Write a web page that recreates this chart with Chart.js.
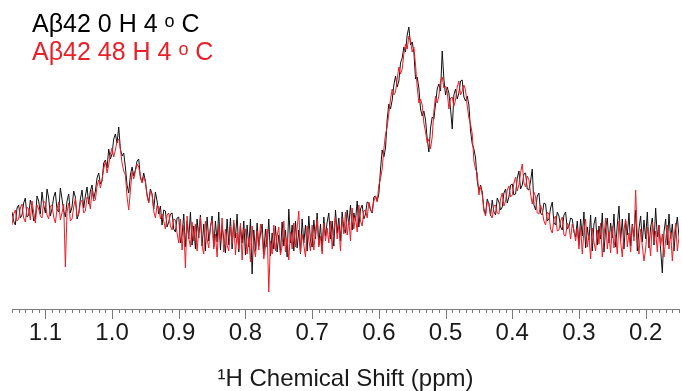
<!DOCTYPE html>
<html>
<head>
<meta charset="utf-8">
<script src="https://cdn.jsdelivr.net/npm/chart.js@4/dist/chart.umd.min.js"></script>
<style>
html,body{margin:0;padding:0;background:#fff;}
canvas{display:block;}
</style>
</head>
<body>
<canvas id="c" width="682" height="391"></canvas>
<script>
// chemical shift sampling: first and last point of the spectrum (ppm), evenly spaced
const ppmFirst = 1.15;
const ppmLast = 0.15;

// Aβ42 0 H 4 °C (intensity, a.u.)
const spec0h = [
97,88,84,101,104,91,94,106,111,92,
94,109,102,88,90,113,108,95,117,104,
96,120,111,93,100,112,117,99,97,121,
110,98,92,108,115,96,102,118,112,90,
95,110,119,101,113,122,105,118,124,110,
118,131,136,125,128,146,149,141,160,150,
155,170,175,166,182,160,153,156,142,124,
116,134,142,133,139,148,150,131,127,136,
128,114,107,120,115,100,117,108,95,103,
84,99,98,82,87,95,96,80,77,91,
92,66,74,95,62,88,70,97,64,83,
60,90,71,94,63,85,58,92,68,81,
93,62,88,67,97,59,84,70,56,90,
64,91,60,86,71,95,57,83,66,88,
54,84,62,90,35,79,58,86,63,75,
85,55,80,62,90,53,76,60,83,57,
74,56,87,63,79,52,100,66,84,58,
88,61,79,55,90,66,84,58,93,68,
62,89,70,96,64,85,58,92,73,87,
96,70,88,63,99,76,91,68,97,80,
76,99,84,104,79,96,88,108,82,100,
104,90,95,107,106,99,96,112,113,108,
115,140,159,152,161,190,205,200,209,224,
233,222,228,246,251,262,257,274,282,264,
267,257,230,232,221,200,193,198,189,170,
157,181,192,190,205,220,225,218,258,230,
214,222,216,200,180,214,220,210,216,228,
229,212,208,213,204,178,165,160,151,128,
118,124,117,100,95,110,105,93,109,97,
94,111,107,99,102,116,120,106,112,124,
125,114,115,131,138,120,124,135,136,120,
119,128,140,104,99,113,116,96,94,106,
105,88,90,101,107,86,84,97,93,82,
79,94,97,80,83,91,90,77,72,88,
64,90,73,97,61,82,69,94,58,85,
92,64,83,70,96,57,80,91,66,86,
71,95,62,84,103,68,90,60,88,74,
96,63,85,72,99,58,80,93,67,89,
70,97,61,82,91,64,101,72,84,59,
36,77,90,64,95,70,85,58,80,92,
72];

// Aβ42 48 H 4 °C (intensity, a.u.)
const spec48h = [
84,95,99,88,90,101,105,91,87,102,
100,89,108,97,86,104,100,93,91,108,
106,94,90,103,104,92,86,100,107,89,
96,105,42,97,106,88,90,102,111,93,
95,106,109,96,98,112,109,100,119,108,
109,123,129,121,129,140,148,136,144,155,
161,152,159,168,170,160,146,138,134,112,
99,118,137,130,138,145,142,133,126,132,
127,113,106,118,115,98,91,104,102,90,
95,88,80,94,96,83,79,90,89,76,
66,90,59,84,41,93,71,62,87,68,
85,58,79,92,63,55,88,70,61,83,
89,60,75,52,84,68,91,57,80,64,
58,83,65,89,54,76,60,86,49,79,
80,55,72,47,83,63,52,78,59,85,
74,50,62,80,17,68,55,84,58,73,
82,54,63,88,57,71,49,77,60,86,
62,81,98,56,75,64,52,83,69,58,
84,59,77,90,62,73,55,86,68,81,
66,88,60,79,92,70,84,58,90,75,
97,74,88,68,101,80,93,77,104,88,
83,98,99,91,107,100,97,108,113,107,
124,130,140,160,175,182,196,210,220,214,
217,230,242,235,240,255,265,260,273,268,
257,262,244,222,206,210,204,186,177,166,
170,160,172,198,213,206,213,228,232,221,
223,217,200,211,212,203,209,222,228,214,
218,224,219,203,191,185,175,148,140,136,
114,123,114,98,93,107,106,94,91,103,
104,96,95,110,116,103,108,119,123,112,
114,126,132,118,124,136,145,126,122,133,
129,115,105,117,112,96,95,104,98,88,
84,97,95,80,76,90,93,78,79,88,
92,74,73,86,83,70,85,79,68,81,
60,83,55,78,90,62,74,50,81,67,
58,79,65,86,52,73,91,60,77,56,
83,61,74,55,88,67,52,79,90,62,
76,57,84,68,119,72,55,80,63,48,
60,82,70,53,87,66,78,57,84,63,
75,52,69,84,60,77,48,71,86,58,
72];

const seriesNames = ['Aβ42 0 H 4 ᵒ C', 'Aβ42 48 H 4 ᵒ C'];
const seriesColors = ['#111111', '#ee1c25'];
const legendColors = ['#000000', '#e8202a'];
const tickLabels = [1.1, 1.0, 0.9, 0.8, 0.7, 0.6, 0.5, 0.4, 0.3, 0.2];
const axisTitle = '¹H Chemical Shift (ppm)';

const FONT = '"Liberation Sans", Arial, sans-serif';

function toPoints(values) {
  const n = values.length;
  const step = (ppmFirst - ppmLast) / (n - 1);
  return values.map((v, i) => ({ x: ppmFirst - i * step, y: v }));
}

const tickPlugin = {
  id: 'nmrTicks',
  afterDraw(chart) {
    const ctx = chart.ctx, xs = chart.scales.x;
    const y0 = chart.chartArea.bottom;
    ctx.save();
    ctx.strokeStyle = '#7a7a7a';
    ctx.lineWidth = 1;
    for (let k = 15; k <= 115; k++) {
      const px = Math.round(xs.getPixelForValue(k / 100)) + 0.5;
      const len = (k % 10 === 0) ? 10 : 4;
      ctx.beginPath();
      ctx.moveTo(px, y0);
      ctx.lineTo(px, y0 + len);
      ctx.stroke();
    }
    ctx.restore();
  }
};

const legendPlugin = {
  id: 'textLegend',
  afterDraw(chart) {
    const ctx = chart.ctx;
    const baselines = [32, 60];
    ctx.save();
    ctx.textBaseline = 'alphabetic';
    chart.data.datasets.forEach((ds, i) => {
      const parts = ds.label.split('ᵒ');
      let x = 32;
      const y = baselines[i];
      ctx.fillStyle = legendColors[i];
      ctx.font = '25px ' + FONT;
      ctx.fillText(parts[0], x, y);
      x += ctx.measureText(parts[0]).width;
      ctx.font = '18px ' + FONT;
      ctx.fillText('o', x, y - 5);
      x += ctx.measureText('o').width;
      ctx.font = '25px ' + FONT;
      ctx.fillText(parts[1], x, y);
    });
    ctx.restore();
  }
};

new Chart(document.getElementById('c'), {
  type: 'line',
  data: {
    datasets: [
      {
        label: seriesNames[0],
        data: toPoints(spec0h),
        borderColor: seriesColors[0],
        borderWidth: 1,
        order: 1
      },
      {
        label: seriesNames[1],
        data: toPoints(spec48h),
        borderColor: seriesColors[1],
        borderWidth: 1,
        order: 0
      }
    ]
  },
  options: {
    responsive: false,
    animation: false,
    events: [],
    layout: { padding: { left: 12, right: 3, top: 0, bottom: 0 } },
    elements: { point: { radius: 0 }, line: { tension: 0 } },
    plugins: { legend: { display: false }, tooltip: { enabled: false } },
    scales: {
      x: {
        type: 'linear',
        reverse: true,
        min: 0.15,
        max: 1.15,
        afterBuildTicks: s => { s.ticks = tickLabels.map(v => ({ value: v })); },
        afterFit: s => { s.height = 82; },
        grid: { display: false },
        border: { display: true, color: '#7a7a7a', width: 1 },
        ticks: {
          autoSkip: false,
          maxRotation: 0,
          padding: 2,
          color: '#1a1a1a',
          font: { family: FONT, size: 24 },
          callback: v => Number(v).toFixed(1)
        },
        title: {
          display: true,
          text: axisTitle,
          color: '#1a1a1a',
          font: { family: FONT, size: 24, lineHeight: 1.0 },
          padding: { top: 0, bottom: 0 }
        }
      },
      y: { display: false, min: 0, max: 309 }
    }
  },
  plugins: [tickPlugin, legendPlugin]
});
</script>
</body>
</html>
